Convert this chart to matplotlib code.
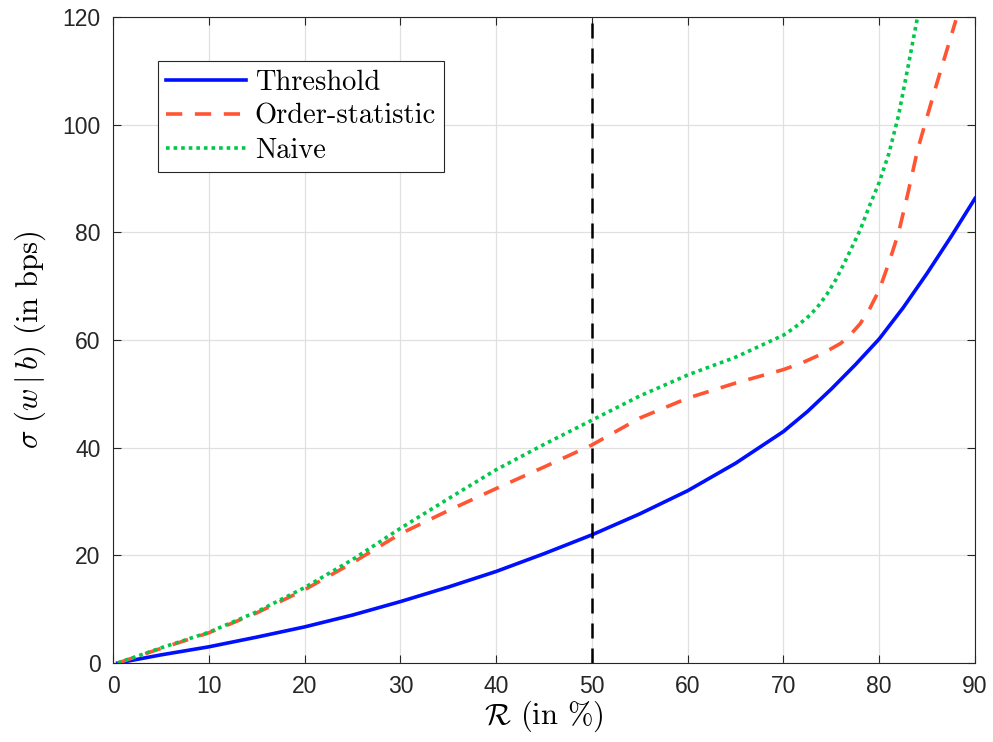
import matplotlib
matplotlib.use("Agg")
import matplotlib.pyplot as plt

plt.rcParams['mathtext.fontset'] = 'cm'
plt.rcParams['font.family'] = ['Liberation Sans', 'DejaVu Sans']

# threshold curve
x_thr = [0.5, 5, 10, 15, 20, 25, 30, 35, 40, 45, 50, 55, 60, 65, 70, 72.5, 75, 77.5, 80, 82.5, 85, 87.5, 90]
y_thr = [0, 1.5, 3.0, 4.8, 6.7, 8.9, 11.4, 14.1, 17.0, 20.3, 23.8, 27.7, 32.0, 37.1, 43.0, 46.7, 50.9, 55.4, 60.2, 66.0, 72.4, 79.2, 86.3]

# order-statistic curve
x_ord = [0.5, 5, 10, 15, 20, 25, 30, 35, 40, 45, 50, 55, 60, 65, 70, 72, 74, 76, 77, 78, 79, 80, 81, 82, 83, 84, 85, 86, 87, 88]
y_ord = [0, 2.7, 5.6, 9.3, 13.6, 18.6, 24.0, 28.3, 32.4, 36.4, 40.5, 45.5, 49.2, 52.0, 54.5, 55.8, 57.4, 59.4, 61.0, 63.0, 65.8, 69.3, 74.3, 79.8, 87.3, 95.3, 101.5, 107.6, 113.5, 119.4]

# naive curve
x_nai = [0.5, 5, 10, 15, 20, 25, 30, 35, 40, 45, 50, 55, 60, 65, 70, 71, 72.4, 73.5, 74.5, 75.5, 76.6, 78, 79, 80, 81, 82, 83, 84]
y_nai = [0, 2.8, 5.7, 9.5, 14.0, 19.2, 25.0, 30.5, 35.9, 40.6, 45.1, 49.6, 53.5, 56.8, 60.9, 62.1, 64.0, 66.0, 68.4, 71.3, 75.2, 80.4, 85.0, 89.3, 94.6, 101.6, 110.7, 120.0]

fig = plt.figure(figsize=(9.93, 7.42), dpi=100)
ax = fig.add_axes([0.1138, 0.1065, 0.8681, 0.8706])

ax.plot(x_thr, y_thr, color='#0010ff', lw=2.6, label='Threshold')
ax.plot(x_ord, y_ord, color='#ff5533', lw=2.6, ls=(0, (4.5, 3.5)), label='Order-statistic')
ax.plot(x_nai, y_nai, color='#00c84a', lw=2.6, ls=(0, (1, 1.1)), label='Naive')
ax.axvline(50, color='black', lw=1.8, ls=(0, (6, 4)))

ax.set_xlim(0, 90)
ax.set_ylim(0, 120)
ax.set_xticks(range(0, 91, 10))
ax.set_yticks(range(0, 121, 20))
ax.grid(True, color='#e0e0e0', lw=0.9)
ax.set_axisbelow(True)
ax.tick_params(direction='in', labelsize=16.5, length=6, colors='#262626',
               top=True, right=True)
ax.tick_params(axis='y', pad=9)
ax.tick_params(axis='x', pad=9)
for s in ax.spines.values():
    s.set_color('#262626')
    s.set_linewidth(0.8)

ax.set_xlabel(r'$\mathcal{R}$ (in %)', fontsize=22, family='cmr10', labelpad=0)
ax.set_ylabel(r'$\sigma\ (w\mid b)$ (in bps)', fontsize=22, family='cmr10', labelpad=10)

leg = ax.legend(loc='upper left', bbox_to_anchor=(0.052, 0.932), prop={'family': 'cmr10', 'size': 20.5},
                frameon=True, fancybox=False, edgecolor='#262626', framealpha=1,
                handlelength=2.8, handletextpad=0.3, borderpad=0.3, labelspacing=0.27, borderaxespad=0)
leg.get_frame().set_linewidth(0.8)

fig.savefig('out.png', dpi=100)
